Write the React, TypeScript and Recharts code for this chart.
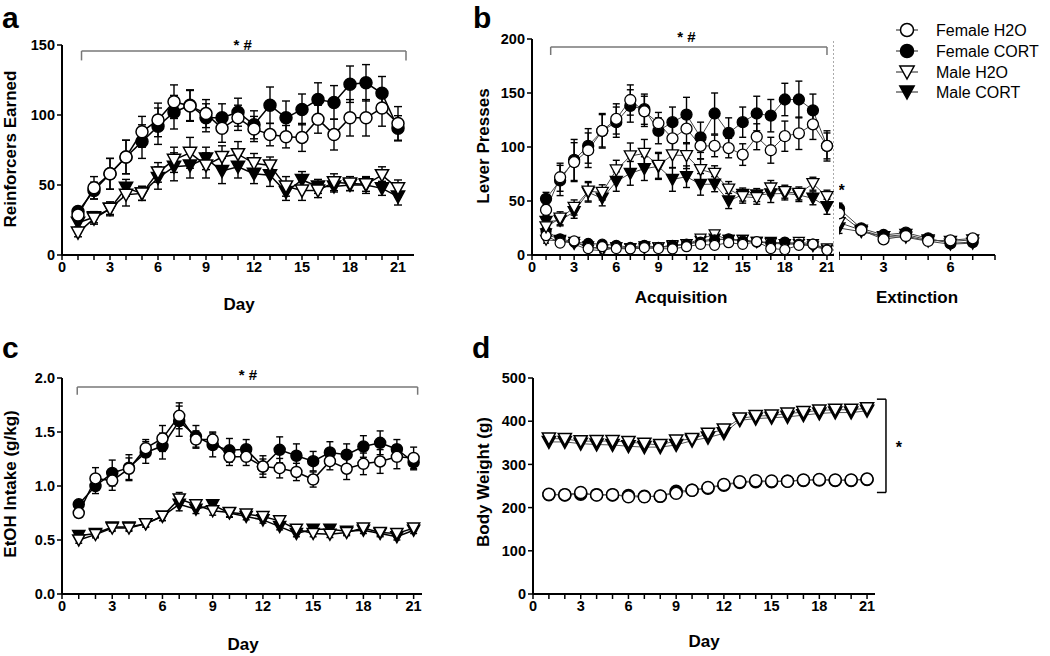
import React from 'react';
import { ComposedChart, Line, XAxis, YAxis, ErrorBar, ReferenceLine, ReferenceDot } from 'recharts';

const FONT = '"Liberation Sans", Arial, Helvetica, sans-serif';

// ---------- shared categories / ticks ----------
const days = [1, 2, 3, 4, 5, 6, 7, 8, 9, 10, 11, 12, 13, 14, 15, 16, 17, 18, 19, 20, 21];
const extDays = [1, 2, 3, 4, 5, 6, 7];
const dayTicks = [0, 1, 2, 3, 4, 5, 6, 7, 8, 9, 10, 11, 12, 13, 14, 15, 16, 17, 18, 19, 20, 21];
const extTicks = [1, 2, 3, 4, 5, 6, 7, 8];
const aYTicks = [0, 50, 100, 150];
const bYTicks = [0, 50, 100, 150, 200];
const cYTicks = [0, 0.5, 1.0, 1.5, 2.0];
const dYTicks = [0, 100, 200, 300, 400, 500];
const legendNames = ['Female H2O', 'Female CORT', 'Male H2O', 'Male CORT'];

// ---------- panel a : reinforcers earned ----------
const aFemaleH2O = [28.6, 48, 58, 70, 88, 96.5, 109.5, 106.5, 101, 90.5, 98, 90, 86, 84.5, 84, 97, 86, 98, 98, 105, 94];
const aFemaleH2OErr = [4, 8, 11, 12, 11, 12, 12, 11, 10, 10, 9, 9, 8, 8, 10, 10, 11, 13, 13, 13, 12];
const aFemaleCORT = [31, 46, 58, 70, 81, 92, 102, 107, 98, 98, 102, 93, 107, 98, 104, 111, 109, 122, 123, 115.5, 90.5];
const aFemaleCORTErr = [3, 6, 11, 12, 12, 13, 12, 11, 10, 10, 10, 10, 13, 12, 11, 12, 12, 13, 13, 12, 9];
const aMaleH2O = [16, 26, 33, 43, 44, 59, 68, 73, 64, 70, 72, 65.5, 64, 49, 46, 46, 52, 51, 50.5, 57, 47.6];
const aMaleH2OErr = [3, 4, 5, 8, 5, 7, 9, 11, 9, 8, 9, 7, 6, 7, 7, 5, 6, 5, 5, 6, 6];
const aMaleCORT = [23, 27, 33, 48, 44, 55, 63, 64, 69, 60, 63, 58, 57, 45, 53.6, 49, 49, 50, 50, 47.6, 41.7];
const aMaleCORTErr = [3, 4, 4, 6, 5, 8, 10, 9, 8, 9, 8, 7, 8, 6, 6, 5, 4, 4, 6, 5, 6];

// ---------- panel b : lever presses (acquisition, active) ----------
const bFemaleH2O = [41.7, 72, 86, 97, 115, 126, 143.5, 133, 122, 108, 117, 101, 101, 99, 93, 109.5, 97, 110, 112.7, 121, 101];
const bFemaleH2OErr = [5, 13, 18, 16, 15, 14, 14, 14, 10, 12, 14, 12, 10, 9, 10, 12, 12, 14, 15, 14, 12];
const bFemaleCORT = [52, 69, 88, 101, 115, 123, 138, 135, 115, 123, 130, 109, 131, 113, 123, 131, 129, 144, 144, 134, 101];
const bFemaleCORTErr = [6, 14, 19, 16, 16, 14, 15, 14, 12, 14, 16, 14, 19, 14, 14, 16, 15, 15, 17, 15, 14];
const bMaleH2O = [26, 34, 44, 59, 58, 78.7, 91.7, 94, 83, 92.6, 92, 79, 75.6, 61, 54, 53, 62, 58.6, 57, 66, 54];
const bMaleH2OErr = [5, 6, 7, 9, 7, 9, 12, 13, 12, 12, 12, 10, 7, 7, 6, 6, 7, 6, 6, 6, 6];
const bMaleCORT = [31, 32, 40, 58, 52.5, 68, 75.6, 80, 82, 70, 72.5, 65.4, 65.6, 50, 56, 55.5, 56.6, 57, 55.5, 52.5, 44.7];
const bMaleCORTErr = [5, 5, 6, 9, 7, 9, 11, 11, 12, 11, 10, 10, 7, 7, 6, 6, 8, 6, 6, 6, 7];

// ---------- panel b : inactive lever (acquisition) ----------
const bInFemaleH2O = [18, 11, 13, 6, 7.7, 6, 5.6, 6.8, 6, 5.6, 7.7, 9.9, 9, 11.4, 9.9, 12.3, 6, 5, 9, 10, 4.6];
const bInFemaleCORT = [22, 15, 12, 10.8, 10, 9, 7, 9, 7, 9, 10, 12, 14, 15, 13, 12, 11, 12, 10, 10, 5];
const bInMaleH2O = [14, 13, 12, 8, 5, 7, 6, 6, 7, 9, 10, 15, 19, 14, 14, 12, 11, 10, 12, 10, 6];
const bInMaleCORT = [20, 14, 10, 5, 4, 7, 6, 8, 7, 8, 10, 13, 15, 14, 14, 12, 12, 10, 10, 8, 5];
const bInErr = [3, 2, 2, 2, 2, 2, 2, 2, 2, 2, 2, 3, 3, 2, 2, 2, 2, 2, 2, 2, 2];

// ---------- panel b : extinction ----------
const eFemaleH2O = [38.6, 23, 14.5, 17.6, 13, 13.6, 15.4];
const eFemaleCORT = [43, 24.7, 18.5, 20.7, 15.4, 10.8, 12];
const eMaleH2O = [30, 23, 17, 19, 14, 12.6, 14];
const eMaleCORT = [25, 21.6, 17, 16.4, 12.7, 10, 11];
const eErr = [5, 3, 2, 3, 2, 2, 2];

// ---------- panel c : EtOH intake ----------
const cFemaleH2O = [0.75, 1.07, 1.05, 1.16, 1.35, 1.44, 1.65, 1.43, 1.43, 1.27, 1.27, 1.18, 1.165, 1.13, 1.06, 1.23, 1.16, 1.205, 1.227, 1.27, 1.26];
const cFemaleH2OErr = [0.04, 0.1, 0.09, 0.1, 0.08, 0.12, 0.12, 0.08, 0.07, 0.08, 0.08, 0.07, 0.09, 0.08, 0.07, 0.08, 0.1, 0.1, 0.11, 0.11, 0.1];
const cFemaleCORT = [0.83, 1.0, 1.12, 1.17, 1.31, 1.37, 1.6, 1.46, 1.38, 1.33, 1.34, 1.18, 1.335, 1.28, 1.23, 1.31, 1.29, 1.366, 1.4, 1.34, 1.22];
const cFemaleCORTErr = [0.03, 0.07, 0.12, 0.12, 0.1, 0.12, 0.14, 0.1, 0.11, 0.11, 0.09, 0.1, 0.12, 0.11, 0.09, 0.1, 0.1, 0.1, 0.11, 0.09, 0.07];
const cMaleH2O = [0.5, 0.55, 0.61, 0.61, 0.65, 0.72, 0.88, 0.825, 0.77, 0.755, 0.74, 0.717, 0.677, 0.6, 0.56, 0.553, 0.57, 0.61, 0.57, 0.56, 0.61];
const cMaleH2OErr = [0.03, 0.03, 0.03, 0.03, 0.03, 0.04, 0.06, 0.04, 0.04, 0.04, 0.03, 0.03, 0.03, 0.03, 0.03, 0.03, 0.03, 0.03, 0.03, 0.03, 0.03];
const cMaleCORT = [0.54, 0.56, 0.62, 0.62, 0.65, 0.72, 0.83, 0.785, 0.825, 0.75, 0.717, 0.686, 0.624, 0.56, 0.6, 0.6, 0.58, 0.59, 0.56, 0.53, 0.59];
const cMaleCORTErr = [0.03, 0.03, 0.03, 0.03, 0.03, 0.04, 0.06, 0.04, 0.04, 0.04, 0.03, 0.03, 0.03, 0.03, 0.03, 0.03, 0.03, 0.03, 0.03, 0.03, 0.03];

// ---------- panel d : body weight ----------
const dFemaleH2O = [231, 230, 235, 229, 230, 225, 225, 227, 233, 240, 246.6, 253.5, 259.7, 262, 261.5, 261, 264, 265, 264, 264, 266];
const dFemaleCORT = [230, 229, 231, 230, 229, 228, 226, 226, 238, 240, 245, 252, 258, 260, 260, 261, 263, 264, 263, 263, 265];
const dMaleH2O = [360, 359, 353.7, 354, 354, 352, 348, 345, 355, 359, 371, 381, 406, 412, 413, 417.7, 421, 425, 426.5, 426.5, 430];
const dMaleCORT = [352, 352, 348, 346, 345, 342, 340, 340, 345, 355, 362, 372, 402, 406, 408, 410, 414, 418, 420, 420, 424];

// ---------- tables built from the arrays ----------
const aTable = days.map((d, i) => ({
  day: d,
  fh: aFemaleH2O[i], fhE: aFemaleH2OErr[i],
  fc: aFemaleCORT[i], fcE: aFemaleCORTErr[i],
  mh: aMaleH2O[i], mhE: aMaleH2OErr[i],
  mc: aMaleCORT[i], mcE: aMaleCORTErr[i],
}));
const bTable = days.map((d, i) => ({
  day: d,
  fh: bFemaleH2O[i], fhE: bFemaleH2OErr[i],
  fc: bFemaleCORT[i], fcE: bFemaleCORTErr[i],
  mh: bMaleH2O[i], mhE: bMaleH2OErr[i],
  mc: bMaleCORT[i], mcE: bMaleCORTErr[i],
  ifh: bInFemaleH2O[i], ifc: bInFemaleCORT[i], imh: bInMaleH2O[i], imc: bInMaleCORT[i], iE: bInErr[i],
}));
const eTable = extDays.map((d, i) => ({
  day: d,
  fh: eFemaleH2O[i], fc: eFemaleCORT[i], mh: eMaleH2O[i], mc: eMaleCORT[i], E: eErr[i],
}));
const cTable = days.map((d, i) => ({
  day: d,
  fh: cFemaleH2O[i], fhE: cFemaleH2OErr[i],
  fc: cFemaleCORT[i], fcE: cFemaleCORTErr[i],
  mh: cMaleH2O[i], mhE: cMaleH2OErr[i],
  mc: cMaleCORT[i], mcE: cMaleCORTErr[i],
}));
const dTable = days.map((d, i) => ({
  day: d, fh: dFemaleH2O[i], fc: dFemaleCORT[i], mh: dMaleH2O[i], mc: dMaleCORT[i],
}));

type Kind = 'circleOpen' | 'circleFilled' | 'triOpen' | 'triFilled';
const kinds: Kind[] = ['circleOpen', 'circleFilled', 'triOpen', 'triFilled'];

function Marker({ cx, cy, kind, size, sw }: { cx: number; cy: number; kind: Kind; size: number; sw: number }) {
  if (cx == null || cy == null || isNaN(cx) || isNaN(cy)) return null;
  const fill = kind === 'circleFilled' || kind === 'triFilled' ? '#000' : '#fff';
  if (kind === 'circleOpen' || kind === 'circleFilled') {
    return <circle cx={cx} cy={cy} r={size} fill={fill} stroke="#000" strokeWidth={sw} />;
  }
  const w = size * 1.1;
  const top = cy - size * 0.92;
  const bottom = cy + size * 1.08;
  return <polygon points={`${cx - w},${top} ${cx + w},${top} ${cx},${bottom}`} fill={fill} stroke="#000" strokeWidth={sw} strokeLinejoin="miter" />;
}

const mk = (kind: Kind, size: number, sw: number) => (p: any) => (
  <Marker key={`m-${kind}-${p.index}`} cx={p.cx} cy={p.cy} kind={kind} size={size} sw={sw} />
);

function series(id: string, dataKey: string, kind: Kind, size: number, sw: number, lineColor: string, lineW: number, errKey?: string, capW?: number) {
  return (
    <Line
      key={id}
      dataKey={dataKey}
      type="linear"
      stroke={lineColor}
      strokeWidth={lineW}
      dot={mk(kind, size, sw)}
      activeDot={false}
      isAnimationActive={false}
      legendType="none"
    >
      {errKey ? <ErrorBar dataKey={errKey} direction="y" width={capW ?? 4} stroke="#000" strokeWidth={1.4} /> : null}
    </Line>
  );
}

const tickStyle = { fill: '#000', fontSize: 14.5, fontWeight: 'bold' as const, fontFamily: FONT };
const axisLineStyle = { stroke: '#000', strokeWidth: 2 };
const tickLineStyle = { stroke: '#000', strokeWidth: 1.5 };
const every3 = (v: number) => (v % 3 === 0 ? String(v) : '');
const bracketColor = '#777';

function StarLabel(text: string, size = 15) {
  return { value: text, position: 'center' as const, fill: '#000', fontSize: size, fontWeight: 'bold', fontFamily: FONT };
}

export default function App() {
  const text = (x: number, y: number, s: string, size: number, opts: any = {}) => (
    <text x={x} y={y} fontFamily={FONT} fontSize={size} fontWeight="bold" fill="#000" {...opts}>{s}</text>
  );
  const legendRows = [30, 51, 72, 92];
  return (
    <div style={{ position: 'absolute', left: 0, top: 0, width: 1050, height: 656, background: '#fff', fontFamily: FONT }}>
      {/* Panel a */}
      <div style={{ position: 'absolute', left: 0, top: 0 }}>
        <ComposedChart width={440} height={320} data={aTable} margin={{ top: 45, right: 26, bottom: 35, left: 0 }}>
          <XAxis dataKey="day" type="number" domain={[0, 21.5]} ticks={dayTicks} interval={0} tickFormatter={every3}
            tick={tickStyle} axisLine={axisLineStyle} tickLine={tickLineStyle} tickSize={5} height={30} allowDecimals={false} />
          <YAxis type="number" domain={[0, 150]} ticks={aYTicks} interval={0} width={62}
            tick={tickStyle} axisLine={axisLineStyle} tickLine={tickLineStyle} tickSize={5} />
          <ReferenceLine segment={[{ x: 1.22, y: 145.7 }, { x: 21.5, y: 145.7 }]} stroke={bracketColor} strokeWidth={1.5} ifOverflow="visible" />
          <ReferenceLine segment={[{ x: 1.22, y: 145.7 }, { x: 1.22, y: 139 }]} stroke={bracketColor} strokeWidth={1.5} ifOverflow="visible" />
          <ReferenceLine segment={[{ x: 21.5, y: 145.7 }, { x: 21.5, y: 139 }]} stroke={bracketColor} strokeWidth={1.5} ifOverflow="visible" />
          <ReferenceDot x={11.3} y={150} r={0} fill="none" stroke="none" ifOverflow="visible" label={StarLabel('* #')} />
          {series('amc', 'mc', kinds[3], 6, 1.5, '#000', 1.5, 'mcE', 4)}
          {series('amh', 'mh', kinds[2], 6, 1.5, '#000', 1.5, 'mhE', 4)}
          {series('afc', 'fc', kinds[1], 6, 1.5, '#000', 1.5, 'fcE', 4)}
          {series('afh', 'fh', kinds[0], 6, 1.5, '#000', 1.5, 'fhE', 4)}
        </ComposedChart>
      </div>

      {/* Panel b - acquisition */}
      <div style={{ position: 'absolute', left: 470, top: 0 }}>
        <ComposedChart width={364} height={320} data={bTable} margin={{ top: 39, right: 0, bottom: 35, left: 0 }}>
          <XAxis dataKey="day" type="number" domain={[0, 21.5]} ticks={dayTicks} interval={0} tickFormatter={every3}
            tick={tickStyle} axisLine={axisLineStyle} tickLine={tickLineStyle} tickSize={5} height={30} />
          <YAxis type="number" domain={[0, 200]} ticks={bYTicks} interval={0} width={62}
            tick={tickStyle} axisLine={axisLineStyle} tickLine={tickLineStyle} tickSize={5} />
          <ReferenceLine x={21.5} stroke="#555" strokeWidth={1} strokeDasharray="2 2" ifOverflow="visible" />
          <ReferenceLine segment={[{ x: 1.33, y: 192.6 }, { x: 21.0, y: 192.6 }]} stroke={bracketColor} strokeWidth={1.5} ifOverflow="visible" />
          <ReferenceLine segment={[{ x: 1.33, y: 192.6 }, { x: 1.33, y: 185.2 }]} stroke={bracketColor} strokeWidth={1.5} ifOverflow="visible" />
          <ReferenceLine segment={[{ x: 21.0, y: 192.6 }, { x: 21.0, y: 185.2 }]} stroke={bracketColor} strokeWidth={1.5} ifOverflow="visible" />
          <ReferenceDot x={11.0} y={202} r={0} fill="none" stroke="none" ifOverflow="visible" label={StarLabel('* #')} />
          {series('bimc', 'imc', kinds[3], 5, 1.2, '#444', 1, 'iE', 3)}
          {series('bimh', 'imh', kinds[2], 5, 1.2, '#444', 1, 'iE', 3)}
          {series('bifc', 'ifc', kinds[1], 5, 1.2, '#444', 1, 'iE', 3)}
          {series('bifh', 'ifh', kinds[0], 5, 1.2, '#444', 1, 'iE', 3)}
          {series('bmc', 'mc', kinds[3], 5.5, 1.3, '#444', 1, 'mcE', 3.5)}
          {series('bmh', 'mh', kinds[2], 5.5, 1.3, '#444', 1, 'mhE', 3.5)}
          {series('bfc', 'fc', kinds[1], 5.5, 1.3, '#444', 1, 'fcE', 3.5)}
          {series('bfh', 'fh', kinds[0], 5.5, 1.3, '#444', 1, 'fhE', 3.5)}
        </ComposedChart>
      </div>

      {/* Panel b - extinction */}
      <div style={{ position: 'absolute', left: 839, top: 0 }}>
        <ComposedChart width={170} height={320} data={eTable} margin={{ top: 39, right: 14, bottom: 35, left: 0 }}>
          <XAxis dataKey="day" type="number" domain={[1, 8]} ticks={extTicks} interval={0} tickFormatter={every3}
            tick={tickStyle} axisLine={axisLineStyle} tickLine={tickLineStyle} tickSize={5} height={30} />
          <YAxis hide type="number" domain={[0, 200]} />
          <ReferenceLine segment={[{ x: 1, y: 0 }, { x: 1, y: 3 }]} stroke="#000" strokeWidth={2} ifOverflow="visible" />
          <ReferenceDot x={1.12} y={60} r={0} fill="none" stroke="none" ifOverflow="visible" label={StarLabel('*', 16)} />
          {series('emc', 'mc', kinds[3], 5.5, 1.3, '#444', 1, 'E', 3.5)}
          {series('emh', 'mh', kinds[2], 5.5, 1.3, '#444', 1, 'E', 3.5)}
          {series('efc', 'fc', kinds[1], 5.5, 1.3, '#444', 1, 'E', 3.5)}
          {series('efh', 'fh', kinds[0], 5.5, 1.3, '#444', 1, 'E', 3.5)}
        </ComposedChart>
      </div>

      {/* Panel c */}
      <div style={{ position: 'absolute', left: 0, top: 330 }}>
        <ComposedChart width={442} height={326} data={cTable} margin={{ top: 48, right: 20, bottom: 32, left: 0 }}>
          <XAxis dataKey="day" type="number" domain={[0, 21.5]} ticks={dayTicks} interval={0} tickFormatter={every3}
            tick={tickStyle} axisLine={axisLineStyle} tickLine={tickLineStyle} tickSize={5} height={30} />
          <YAxis type="number" domain={[0, 2]} ticks={cYTicks} interval={0} width={62} tickFormatter={(v: number) => v.toFixed(1)}
            tick={tickStyle} axisLine={axisLineStyle} tickLine={tickLineStyle} tickSize={5} />
          <ReferenceLine segment={[{ x: 0.91, y: 1.917 }, { x: 21.24, y: 1.917 }]} stroke={bracketColor} strokeWidth={1.5} ifOverflow="visible" />
          <ReferenceLine segment={[{ x: 0.91, y: 1.917 }, { x: 0.91, y: 1.845 }]} stroke={bracketColor} strokeWidth={1.5} ifOverflow="visible" />
          <ReferenceLine segment={[{ x: 21.24, y: 1.917 }, { x: 21.24, y: 1.845 }]} stroke={bracketColor} strokeWidth={1.5} ifOverflow="visible" />
          <ReferenceDot x={11.1} y={2.03} r={0} fill="none" stroke="none" ifOverflow="visible" label={StarLabel('* #')} />
          {series('cmc', 'mc', kinds[3], 5.5, 1.5, '#000', 1.5, 'mcE', 3.5)}
          {series('cmh', 'mh', kinds[2], 5.5, 1.5, '#000', 1.5, 'mhE', 3.5)}
          {series('cfc', 'fc', kinds[1], 5.5, 1.5, '#000', 1.5, 'fcE', 3.5)}
          {series('cfh', 'fh', kinds[0], 5.5, 1.5, '#000', 1.5, 'fhE', 3.5)}
        </ComposedChart>
      </div>

      {/* Panel d */}
      <div style={{ position: 'absolute', left: 471, top: 330 }}>
        <ComposedChart width={464} height={326} data={dTable} margin={{ top: 48, right: 60, bottom: 32, left: 0 }}>
          <XAxis dataKey="day" type="number" domain={[0, 21.5]} ticks={dayTicks} interval={0} tickFormatter={every3}
            tick={tickStyle} axisLine={axisLineStyle} tickLine={tickLineStyle} tickSize={5} height={30} />
          <YAxis type="number" domain={[0, 500]} ticks={dYTicks} interval={0} width={62}
            tick={tickStyle} axisLine={axisLineStyle} tickLine={tickLineStyle} tickSize={5} />
          <ReferenceLine segment={[{ x: 22.19, y: 451 }, { x: 22.19, y: 235 }]} stroke="#000" strokeWidth={1.5} ifOverflow="visible" />
          <ReferenceLine segment={[{ x: 21.62, y: 451 }, { x: 22.19, y: 451 }]} stroke="#000" strokeWidth={1.5} ifOverflow="visible" />
          <ReferenceLine segment={[{ x: 21.62, y: 235 }, { x: 22.19, y: 235 }]} stroke="#000" strokeWidth={1.5} ifOverflow="visible" />
          <ReferenceDot x={23.0} y={340} r={0} fill="none" stroke="none" ifOverflow="visible" label={StarLabel('*', 16)} />
          {series('dmc', 'mc', kinds[3], 6, 1.5, '#555', 1)}
          {series('dmh', 'mh', kinds[2], 6, 1.5, '#555', 1)}
          {series('dfc', 'fc', kinds[1], 6, 1.5, '#555', 1)}
          {series('dfh', 'fh', kinds[0], 6, 1.5, '#555', 1)}
        </ComposedChart>
      </div>

      {/* Titles, panel letters and legend */}
      <svg width={1050} height={656} style={{ position: 'absolute', left: 0, top: 0, pointerEvents: 'none' }}>
        {text(2, 28, 'a', 30)}
        {text(473, 28, 'b', 30)}
        {text(2, 358, 'c', 30)}
        {text(472, 358, 'd', 30)}

        {text(16, 149, 'Reinforcers Earned', 17, { textAnchor: 'middle', transform: 'rotate(-90 16 149)' })}
        {text(239, 310, 'Day', 17, { textAnchor: 'middle' })}
        {text(489, 146, 'Lever Presses', 17, { textAnchor: 'middle', transform: 'rotate(-90 489 146)' })}
        {text(681, 303, 'Acquisition', 17, { textAnchor: 'middle' })}
        {text(917, 303, 'Extinction', 17, { textAnchor: 'middle' })}
        {text(16, 484, 'EtOH Intake (g/kg)', 17, { textAnchor: 'middle', transform: 'rotate(-90 16 484)' })}
        {text(243, 650, 'Day', 17, { textAnchor: 'middle' })}
        {text(489, 482, 'Body Weight (g)', 17, { textAnchor: 'middle', transform: 'rotate(-90 489 482)' })}
        {text(704, 647, 'Day', 17, { textAnchor: 'middle' })}

        {legendNames.map((name, i) => (
          <g key={name}>
            <line x1={896} x2={918} y1={legendRows[i]} y2={legendRows[i]} stroke="#444" strokeWidth={1.2} />
            <Marker cx={907} cy={legendRows[i]} kind={kinds[i]} size={6.5} sw={1.5} />
            <text x={936} y={legendRows[i] + 5.5} fontFamily={FONT} fontSize={16} fill="#000">{name}</text>
          </g>
        ))}
      </svg>
    </div>
  );
}
